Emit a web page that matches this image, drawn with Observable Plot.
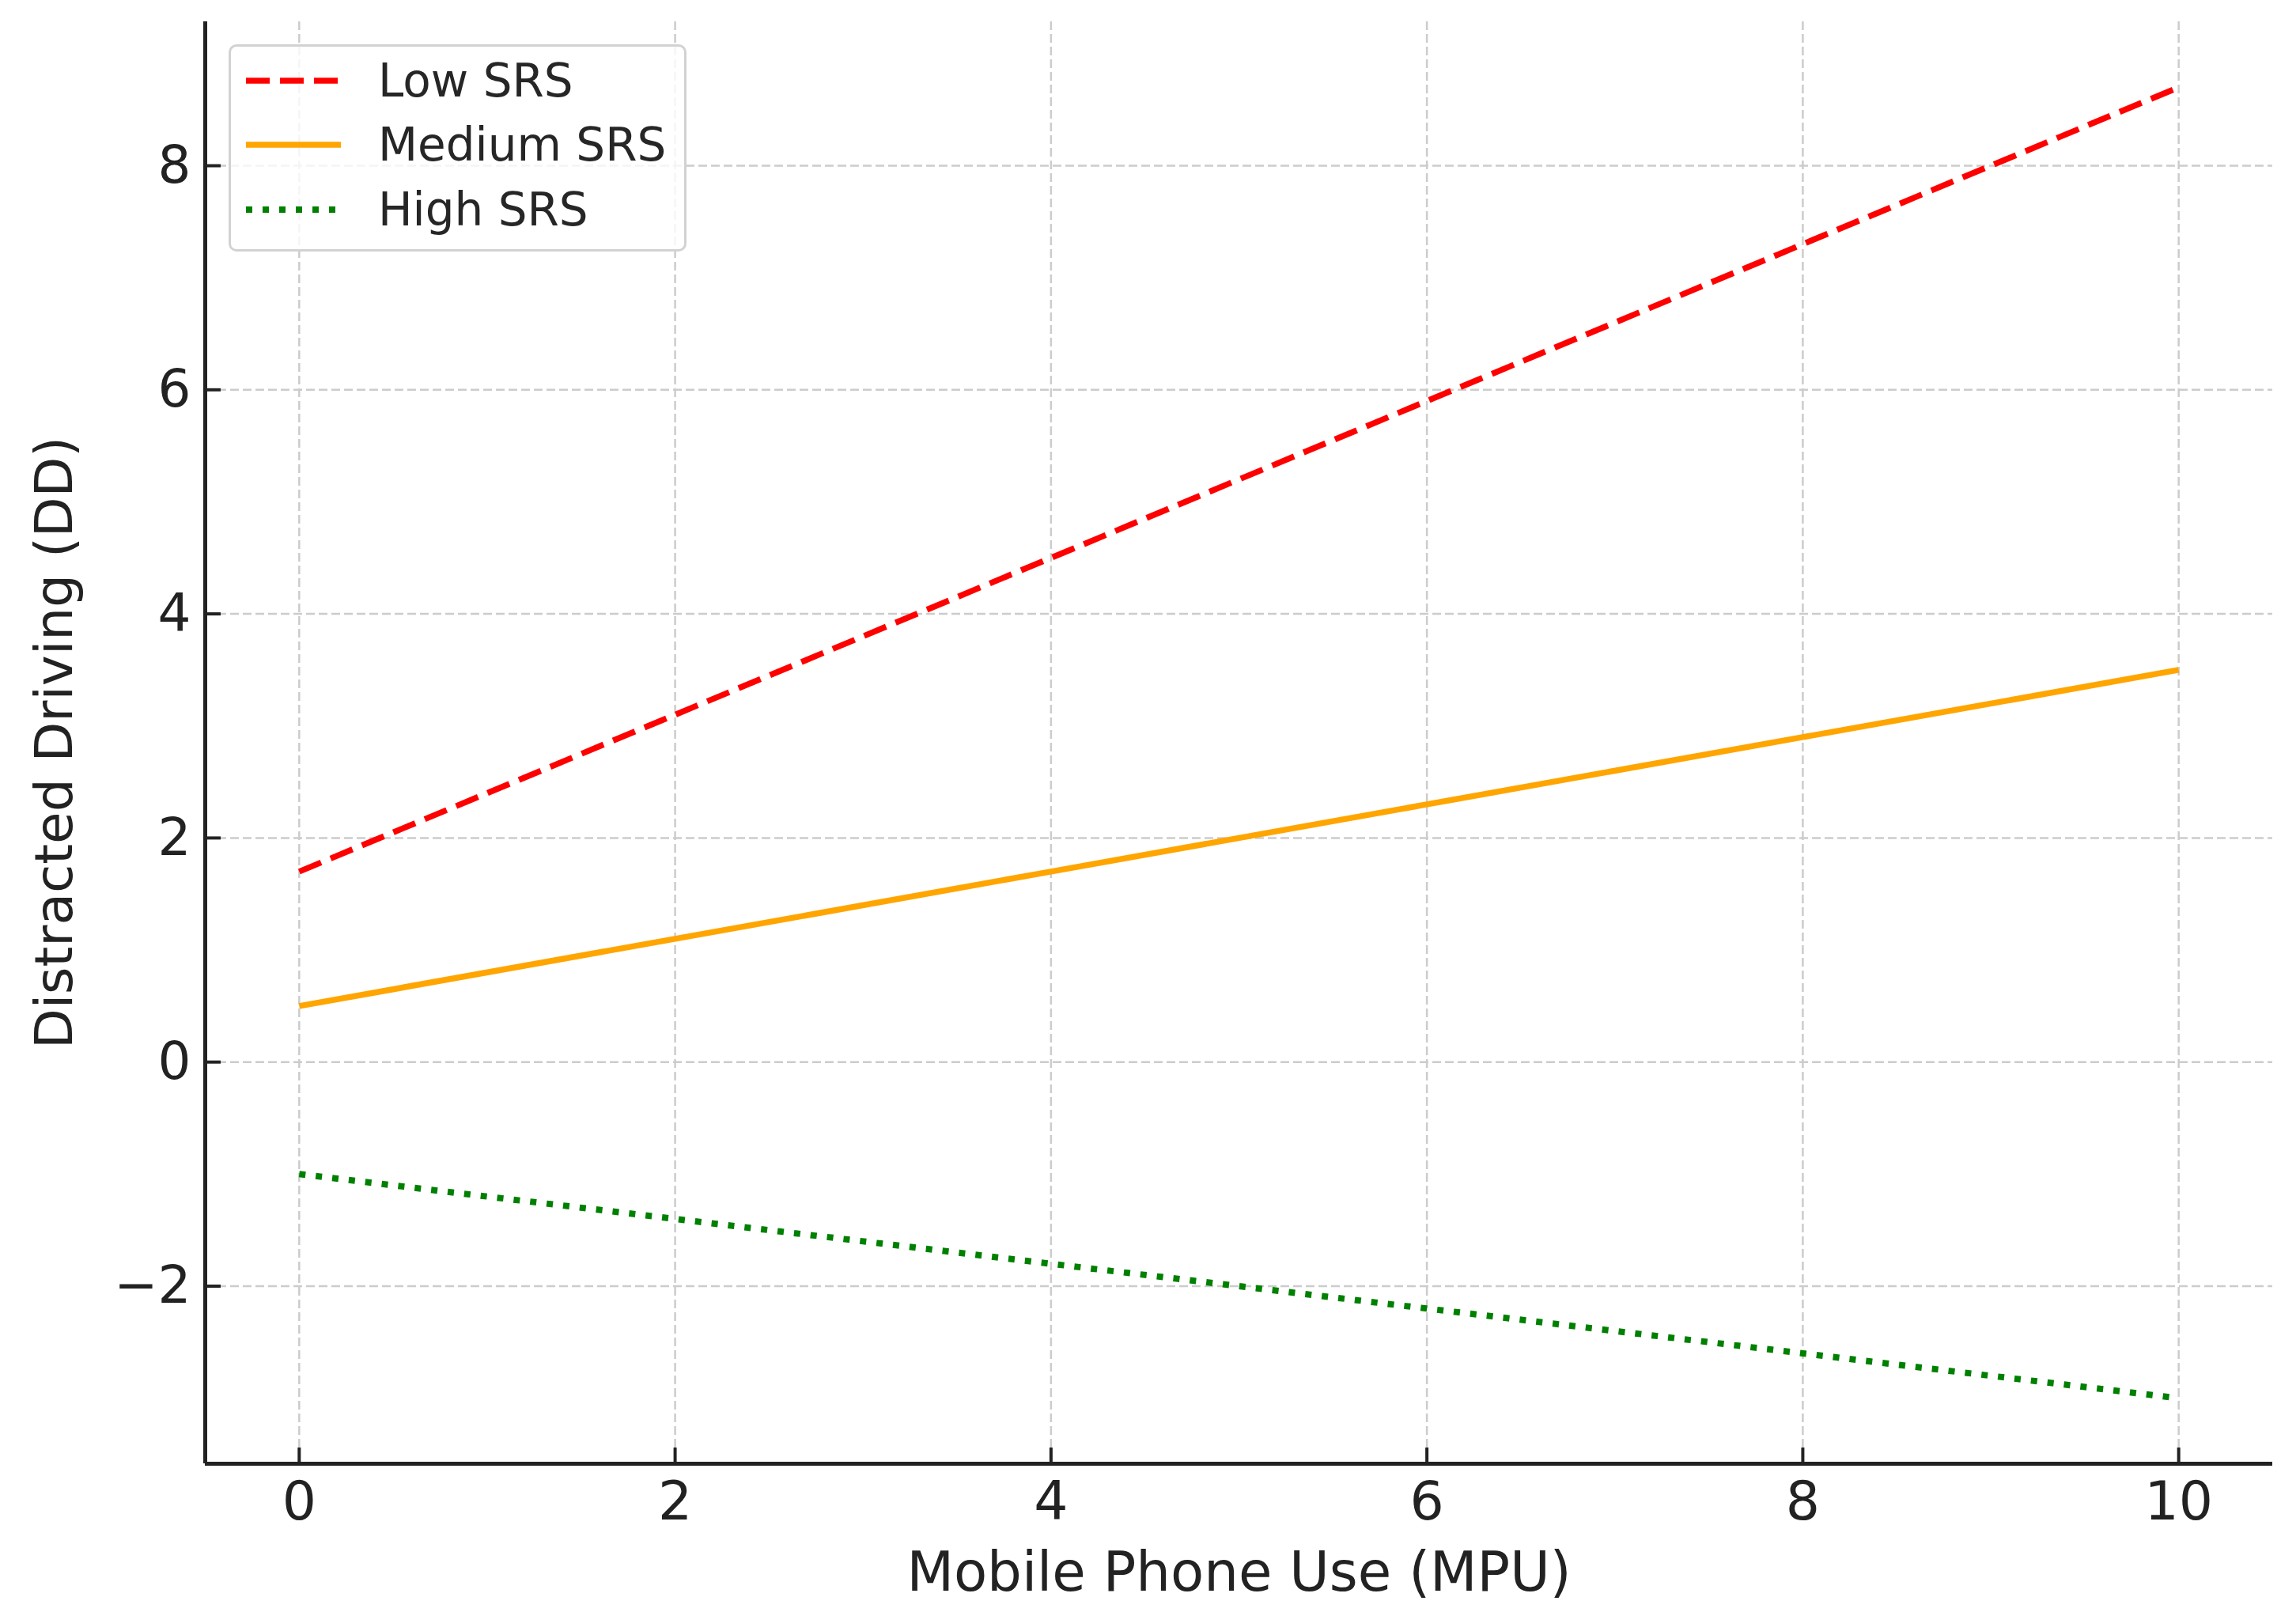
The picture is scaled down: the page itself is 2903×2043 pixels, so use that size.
<!DOCTYPE html>
<html>
<head>
<meta charset="utf-8">
<script src="https://cdn.jsdelivr.net/npm/d3@7"></script>
<script src="https://cdn.jsdelivr.net/npm/@observablehq/plot@0.6"></script>
<style>
  html, body { margin: 0; padding: 0; background: #ffffff; }
  #wrap { position: relative; width: 2903px; height: 2043px; font-family: "DejaVu Sans", sans-serif; }
  #legend { position: absolute; left: 289px; top: 56px; width: 573px; height: 256px;
            border: 3px solid #d2d2d2; border-radius: 10px; background: rgba(255,255,255,0.8);
            box-sizing: content-box; }
  .row { position: absolute; left: 0; height: 80px; display: flex; align-items: center; }
  .row svg { margin-left: 19px; }
  .row span { margin-left: 47px; font-size: 58px; color: #262626; font-family: "DejaVu Sans", sans-serif; }
</style>
</head>
<body>
<div id="wrap"></div>
<script>
// ---- data ----
const mpu = [0, 2, 4, 6, 8, 10];
const lowSRS = [1.7, 3.1, 4.5, 5.9, 7.3, 8.7];
const mediumSRS = [0.5, 1.1, 1.7, 2.3, 2.9, 3.5];
const highSRS = [-1.0, -1.4, -1.8, -2.2, -2.6, -3.0];
const seriesNames = ["Low SRS", "Medium SRS", "High SRS"];
const seriesColors = ["#ff0000", "#ffa500", "#008000"];
const seriesDash = ["30,13", null, "8,13"];
const xTicks = [0, 2, 4, 6, 8, 10];
const yTicks = [-2, 0, 2, 4, 6, 8];
const xDomain = [-0.5, 10.5];
const yDomain = [-3.585, 9.285];

const W = 2903, H = 2043;
const M = {left: 259, right: 30, top: 27, bottom: 193};
const frameW = W - M.left - M.right;
const frameH = H - M.top - M.bottom;

const series = [lowSRS, mediumSRS, highSRS].map((vals, i) =>
  mpu.map((x, j) => ({x, y: vals[j], s: seriesNames[i]})));

const ink = "#222222";
const gridStyle = {stroke: "#cccccc", strokeOpacity: 1, strokeWidth: 2.5, strokeDasharray: "11,5"};
const fmt = d3.format("d");

const marks = [
  Plot.gridX(xTicks, gridStyle),
  Plot.gridY(yTicks, gridStyle),
  ...series.map((d, i) => Plot.line(d, {
    x: "x", y: "y", stroke: seriesColors[i], strokeWidth: i === 2 ? 8 : 7.5,
    strokeDasharray: seriesDash[i], strokeLinecap: "butt"
  })),
  Plot.axisX(xTicks, {tickSize: 0, tickPadding: 22, fontSize: 68, fill: ink, tickFormat: fmt,
    label: null}),
  Plot.axisX({tickSize: 0, ticks: [], fontSize: 69, fill: ink,
    label: "Mobile Phone Use (MPU)", labelAnchor: "center", labelArrow: "none", labelOffset: 160}),
  Plot.axisY(yTicks, {tickSize: 0, tickPadding: 18, fontSize: 66, fill: ink, tickFormat: fmt,
    label: "Distracted Driving (DD)", labelAnchor: "center", labelArrow: "none", labelOffset: 215}),
  // inward tick marks
  Plot.tickX(xTicks, {x: d => d, insetTop: frameH - 20, stroke: ink, strokeWidth: 4}),
  Plot.tickY(yTicks, {y: d => d, insetRight: frameW - 20, stroke: ink, strokeWidth: 4}),
  // left and bottom spines
  Plot.ruleX([xDomain[0]], {stroke: ink, strokeWidth: 5}),
  Plot.ruleY([yDomain[0]], {stroke: ink, strokeWidth: 5})
];

const chart = Plot.plot({
  width: W,
  height: H,
  marginLeft: M.left,
  marginRight: M.right,
  marginTop: M.top,
  marginBottom: M.bottom,
  x: {domain: xDomain},
  y: {domain: yDomain},
  style: {fontFamily: "DejaVu Sans, sans-serif", fontSize: "66px", color: ink, background: "#ffffff"},
  marks
});

const wrap = document.getElementById("wrap");
wrap.appendChild(chart);

// legend overlay
const legend = document.createElement("div");
legend.id = "legend";
const rowCenters = [46, 127, 209];
seriesNames.forEach((name, i) => {
  const row = document.createElement("div");
  row.className = "row";
  row.style.top = (rowCenters[i] - 3 - 40) + "px";
  const ns = "http://www.w3.org/2000/svg";
  const s = document.createElementNS(ns, "svg");
  s.setAttribute("width", "120");
  s.setAttribute("height", "20");
  const ln = document.createElementNS(ns, "line");
  ln.setAttribute("x1", "0"); ln.setAttribute("x2", "120");
  ln.setAttribute("y1", "10"); ln.setAttribute("y2", "10");
  ln.setAttribute("stroke", seriesColors[i]);
  ln.setAttribute("stroke-width", i === 2 ? "8" : "7.5");
  if (seriesDash[i]) ln.setAttribute("stroke-dasharray", seriesDash[i]);
  s.appendChild(ln);
  const t = document.createElement("span");
  t.textContent = name;
  row.appendChild(s);
  row.appendChild(t);
  legend.appendChild(row);
});
wrap.appendChild(legend);
</script>
</body>
</html>
